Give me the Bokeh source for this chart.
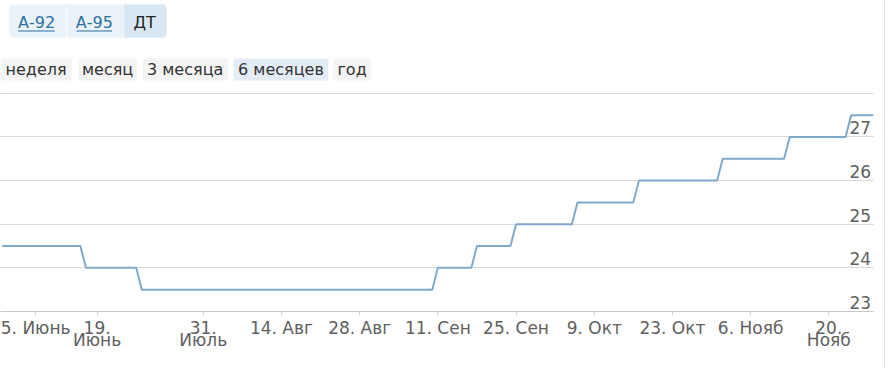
from bokeh.plotting import figure
from bokeh.layouts import column, row
from bokeh.models import FixedTicker, LinearAxis, Range1d, Label, BoxAnnotation, Grid, Div
from bokeh.embed import file_html
from bokeh.resources import INLINE

# Highstock-style ordinal axis: one unit per data point
tick_points = [6, 17, 36, 50, 64, 78, 92, 106, 120, 134, 148]
tick_labels = ["5. Июнь", "19.\nИюнь", "31.\nИюль", "14. Авг", "28. Авг", "11. Сен",
               "25. Сен", "9. Окт", "23. Окт", "6. Нояб", "20.\nНояб"]

price_levels = [24.5, 24.0, 23.5, 24.0, 24.5, 25.0, 25.5, 26.0, 26.5, 27.0, 27.5]
change_points = [15, 25, 78, 85, 92, 103, 114, 129, 141, 152]  # first point at new level
first_point = 0
last_point = 156

y_grid_values = [23, 24, 25, 26, 27, 28]
y_label_values = [23, 24, 25, 26, 27]

fuel_buttons = ["А-92", "А-95", "ДТ"]
range_buttons = ["неделя", "месяц", "3 месяца", "6 месяцев", "год"]

# build step line
xs = [first_point]
ys = [price_levels[0]]
for i, c in enumerate(change_points):
    xs += [c - 1, c]
    ys += [price_levels[i], price_levels[i + 1]]
xs.append(last_point)
ys.append(price_levels[-1])

FONT = "DejaVu Sans"
W = 884
TOP_H = 92
CH_H = 368 - TOP_H

# ---------- header with buttons ----------
top = figure(width=W, height=TOP_H, x_range=Range1d(0, W), y_range=Range1d(TOP_H, 0),
             output_backend="svg", toolbar_location=None, x_axis_location=None,
             y_axis_location=None, min_border=0)
top.outline_line_color = None
top.border_fill_color = "white"
top.grid.visible = False


def box(l, r, t, b, color, radius=0):
    top.add_layout(BoxAnnotation(left=l, right=r, top=t, bottom=b,
                                 fill_color=color, fill_alpha=1, line_color=None,
                                 border_radius=radius))


def text(x, y, s, color):
    top.add_layout(Label(x=x, y=y, text=s, text_align="center", text_baseline="middle",
                         text_font=FONT, text_font_size="16px", text_color=color))


box(9, 168, 4, 37, "#e9f2f9", 4)
box(125, 168, 4, 37, "#d8e7f3", (0, 4, 4, 0))
box(66.5, 67.5, 4, 37, "#ffffff")
box(124, 125, 4, 37, "#f4f8fb")
fuel_x = [36.5, 95, 146]
fuel_col = ["#2f6f9f", "#2f6f9f", "#222222"]
for s, x, c in zip(fuel_buttons, fuel_x, fuel_col):
    text(x, 21.5, s, c)
box(18, 55, 30, 31, "#2f6f9f")
box(77, 113, 30, 31, "#2f6f9f")

rb_boxes = [(0, 72), (79, 138), (144, 230), (236, 332), (337, 375)]
rb_cols = ["#f4f4f4", "#f4f4f4", "#f4f4f4", "#e4edf7", "#f4f4f4"]
for s, (l, r), c in zip(range_buttons, rb_boxes, rb_cols):
    box(l, r, 58, 80, c)
    text((l + r) / 2, 68.5, s, "#333333")

# ---------- chart ----------
p = figure(width=W, height=CH_H, x_range=Range1d(-0.3, 156.0), y_range=Range1d(23, 28.02),
           output_backend="svg", toolbar_location=None, y_axis_location=None,
           min_border_left=0, min_border_right=11, min_border_top=0,
           min_border_bottom=57)
p.outline_line_color = None
p.border_fill_color = "white"
p.xgrid.visible = False

p.add_layout(Grid(dimension=1, ticker=FixedTicker(ticks=y_grid_values),
                  grid_line_color="#d9d9d9", grid_line_width=1))

xa = p.xaxis[0]
xa.ticker = FixedTicker(ticks=tick_points)
xa.major_label_overrides = {t: l for t, l in zip(tick_points, tick_labels)}
xa.axis_line_color = "#c8c8c8"
xa.major_tick_line_color = "#d0d0d0"
xa.major_tick_in = 0
xa.major_tick_out = 4
xa.minor_tick_line_color = None
xa.major_label_text_font = FONT
xa.major_label_text_font_size = "17px"
xa.major_label_text_color = "#606060"
xa.major_label_text_line_height = 0.63
xa.major_label_standoff = 2

p.extra_y_ranges = {"lab": Range1d(22.79, 27.81)}
ya = LinearAxis(y_range_name="lab", ticker=FixedTicker(ticks=y_label_values))
ya.axis_line_color = None
ya.major_tick_line_color = None
ya.minor_tick_line_color = None
ya.major_label_standoff = -30
ya.major_label_text_font = FONT
ya.major_label_text_font_size = "17px"
ya.major_label_text_color = "#606060"
p.add_layout(ya, "right")

p.line(xs, ys, line_color="#80a9cb", line_width=2)

border = Div(width=1, height=368, margin=0, styles={"background-color": "#e2e2e2"})
layout = row(column(top, p, spacing=0), border, spacing=0)

open("out.html", "w").write(file_html(layout, INLINE))
